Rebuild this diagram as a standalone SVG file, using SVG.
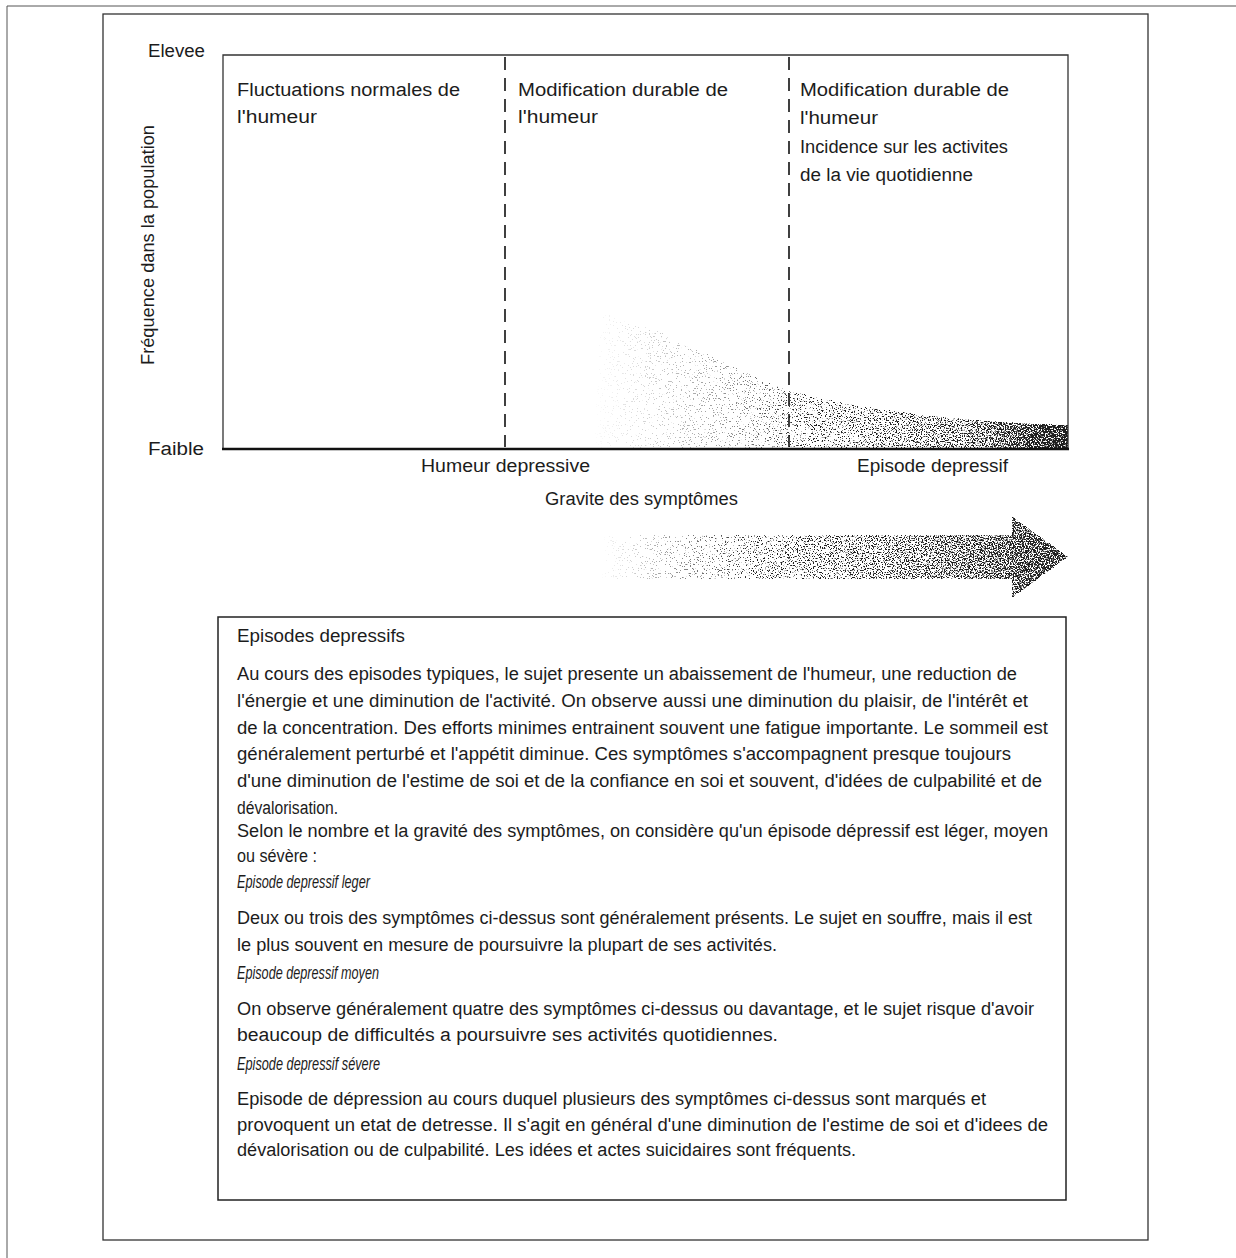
<svg xmlns="http://www.w3.org/2000/svg" width="1236" height="1258" viewBox="0 0 1236 1258">
<style>
text{font-family:"Liberation Sans",Arial,sans-serif;fill:#1c1c1c}
.lbl{font-size:18px}
.ax{font-size:18px}
.body{font-size:18px}
.it{font-style:italic}
.frame{fill:none;stroke:#333;stroke-width:1.3}
.dash{fill:none;stroke:#111;stroke-width:1.6;stroke-dasharray:13 8}
</style>
<defs>
<linearGradient id="gCurve" x1="592" y1="0" x2="1068" y2="0" gradientUnits="userSpaceOnUse">
<stop offset="0" stop-color="#ffffff"/>
<stop offset="0.3" stop-color="#dedede"/>
<stop offset="0.55" stop-color="#a8a8a8"/>
<stop offset="0.8" stop-color="#7c7c7c"/>
<stop offset="1" stop-color="#1a1a1a"/>
</linearGradient>
<linearGradient id="gArrow" x1="600" y1="0" x2="1070" y2="0" gradientUnits="userSpaceOnUse">
<stop offset="0" stop-color="#ffffff"/>
<stop offset="0.25" stop-color="#cfcfcf"/>
<stop offset="0.5" stop-color="#9c9c9c"/>
<stop offset="0.8" stop-color="#6c6c6c"/>
<stop offset="1" stop-color="#3a3a3a"/>
</linearGradient>
<filter id="stip" x="-0.02" y="-0.02" width="1.04" height="1.04" color-interpolation-filters="sRGB">
<feColorMatrix in="SourceGraphic" type="matrix" values="0 0 0 0 0  0 0 0 0 0  0 0 0 0 0  -1 0 0 1 0" result="dark"/>
<feTurbulence type="fractalNoise" baseFrequency="0.75" numOctaves="2" seed="7" result="n"/>
<feColorMatrix in="n" type="matrix" values="0 0 0 0 0  0 0 0 0 0  0 0 0 0 0  2.6 0 0 0 -0.8" result="na"/>
<feComposite in="dark" in2="na" operator="arithmetic" k1="0" k2="4" k3="-4" k4="0" result="dots"/>
<feColorMatrix in="dots" type="matrix" values="0 0 0 0 0.12  0 0 0 0 0.12  0 0 0 0 0.12  0 0 0 1 0"/>
</filter>
</defs>

<g id="page-frame">
<line x1="7" y1="6" x2="1236" y2="6" stroke="#555" stroke-width="1"/>
<line x1="7" y1="6" x2="7" y2="1258" stroke="#555" stroke-width="1"/>
<rect class="frame" x="103" y="14" width="1045" height="1226"/>
</g>

<g id="chart">
<path d="M 594 449 L 600 312 C 680 332, 735 372, 789 390 C 880 414, 980 422, 1068 425 L 1068 449 Z" fill="url(#gCurve)" filter="url(#stip)"/>
<path d="M 223 449 L 223 55 L 1068 55 L 1068 449" fill="none" stroke="#333" stroke-width="1.3"/>
<line x1="222" y1="449" x2="1069" y2="449" stroke="#111" stroke-width="2.4"/>
<line class="dash" x1="505" y1="57" x2="505" y2="447"/>
<line class="dash" x1="789" y1="57" x2="789" y2="447"/>
<text class="ax" x="148" y="57" textLength="57" lengthAdjust="spacingAndGlyphs">Elevee</text>
<text class="ax" x="148" y="455" textLength="56" lengthAdjust="spacingAndGlyphs">Faible</text>
<text class="ax" transform="translate(154 245) rotate(-90)" text-anchor="middle" textLength="240" lengthAdjust="spacingAndGlyphs">Fréquence dans la population</text>
<text class="ax" x="421" y="472" textLength="169" lengthAdjust="spacingAndGlyphs">Humeur depressive</text>
<text class="ax" x="857" y="472" textLength="151" lengthAdjust="spacingAndGlyphs">Episode depressif</text>
<text class="ax" x="545" y="505" textLength="193" lengthAdjust="spacingAndGlyphs">Gravite des symptômes</text>
</g>

<g id="zone1">
<text class="lbl" x="237" y="96" textLength="223" lengthAdjust="spacingAndGlyphs">Fluctuations normales de</text>
<text class="lbl" x="237" y="123" textLength="80" lengthAdjust="spacingAndGlyphs">l'humeur</text>
</g>
<g id="zone2">
<text class="lbl" x="518" y="96" textLength="210" lengthAdjust="spacingAndGlyphs">Modification durable de</text>
<text class="lbl" x="518" y="123" textLength="80" lengthAdjust="spacingAndGlyphs">l'humeur</text>
</g>
<g id="zone3">
<text class="lbl" x="800" y="96" textLength="209" lengthAdjust="spacingAndGlyphs">Modification durable de</text>
<text class="lbl" x="800" y="124" textLength="78" lengthAdjust="spacingAndGlyphs">l'humeur</text>
<text class="lbl" x="800" y="153" textLength="208" lengthAdjust="spacingAndGlyphs">Incidence sur les activites</text>
<text class="lbl" x="800" y="181" textLength="173" lengthAdjust="spacingAndGlyphs">de la vie quotidienne</text>
</g>

<g id="severity-arrow">
<path d="M 600 535 L 1012 535 L 1012 516 L 1068 557 L 1012 598 L 1012 579 L 600 579 Z" fill="url(#gArrow)" filter="url(#stip)"/>
</g>

<g id="textbox">
<rect x="218" y="617" width="848" height="583" fill="none" stroke="#222" stroke-width="1.5"/>
<text class="body" x="237" y="642" textLength="168" lengthAdjust="spacingAndGlyphs">Episodes depressifs</text>
<text class="body" x="237" y="680" textLength="780" lengthAdjust="spacingAndGlyphs">Au cours des episodes typiques, le sujet presente un abaissement de l'humeur, une reduction de</text>
<text class="body" x="237" y="707" textLength="791" lengthAdjust="spacingAndGlyphs">l'énergie et une diminution de l'activité. On observe aussi une diminution du plaisir, de l'intérêt et</text>
<text class="body" x="237" y="734" textLength="811" lengthAdjust="spacingAndGlyphs">de la concentration. Des efforts minimes entrainent souvent une fatigue importante. Le sommeil est</text>
<text class="body" x="237" y="760" textLength="774" lengthAdjust="spacingAndGlyphs">généralement perturbé et l'appétit diminue. Ces symptômes s'accompagnent presque toujours</text>
<text class="body" x="237" y="787" textLength="805" lengthAdjust="spacingAndGlyphs">d'une diminution de l'estime de soi et de la confiance en soi et souvent, d'idées de culpabilité et de</text>
<text class="body" x="237" y="814" textLength="101" lengthAdjust="spacingAndGlyphs">dévalorisation.</text>
<text class="body" x="237" y="837" textLength="811" lengthAdjust="spacingAndGlyphs">Selon le nombre et la gravité des symptômes, on considère qu'un épisode dépressif est léger, moyen</text>
<text class="body" x="237" y="862" textLength="80" lengthAdjust="spacingAndGlyphs">ou sévère :</text>
<text class="body it" x="237" y="888" textLength="133" lengthAdjust="spacingAndGlyphs">Episode depressif leger</text>
<text class="body" x="237" y="924" textLength="795" lengthAdjust="spacingAndGlyphs">Deux ou trois des symptômes ci-dessus sont généralement présents. Le sujet en souffre, mais il est</text>
<text class="body" x="237" y="951" textLength="540" lengthAdjust="spacingAndGlyphs">le plus souvent en mesure de poursuivre la plupart de ses activités.</text>
<text class="body it" x="237" y="979" textLength="142" lengthAdjust="spacingAndGlyphs">Episode depressif moyen</text>
<text class="body" x="237" y="1015" textLength="797" lengthAdjust="spacingAndGlyphs">On observe généralement quatre des symptômes ci-dessus ou davantage, et le sujet risque d'avoir</text>
<text class="body" x="237" y="1041" textLength="541" lengthAdjust="spacingAndGlyphs">beaucoup de difficultés a poursuivre ses activités quotidiennes.</text>
<text class="body it" x="237" y="1070" textLength="143" lengthAdjust="spacingAndGlyphs">Episode depressif sévere</text>
<text class="body" x="237" y="1105" textLength="749" lengthAdjust="spacingAndGlyphs">Episode de dépression au cours duquel plusieurs des symptômes ci-dessus sont marqués et</text>
<text class="body" x="237" y="1131" textLength="811" lengthAdjust="spacingAndGlyphs">provoquent un etat de detresse. Il s'agit en général d'une diminution de l'estime de soi et d'idees de</text>
<text class="body" x="237" y="1156" textLength="619" lengthAdjust="spacingAndGlyphs">dévalorisation ou de culpabilité. Les idées et actes suicidaires sont fréquents.</text>
</g>
</svg>
